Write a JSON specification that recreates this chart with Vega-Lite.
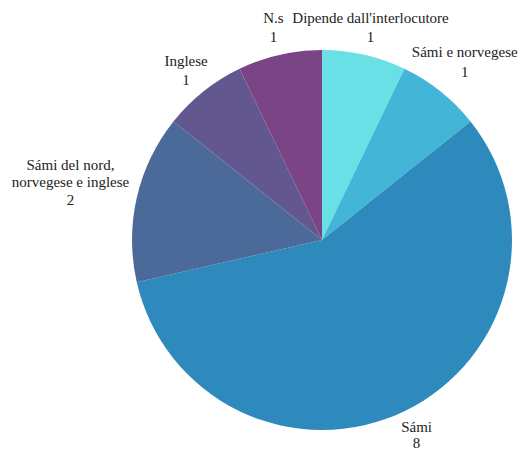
{
  "$schema": "https://vega.github.io/schema/vega-lite/v6.json",
  "autosize": "none",
  "width": 396,
  "height": 420,
  "padding": {"left": 124, "top": 30, "right": 0, "bottom": 0},
  "background": "white",
  "data": {
    "values": [
      {"cat": "Dipende dall'interlocutore", "n": 1, "ord": 1},
      {"cat": "Sámi e norvegese", "n": 1, "ord": 2},
      {"cat": "Sámi", "n": 8, "ord": 3},
      {"cat": "Sámi del nord,\nnorvegese e inglese", "n": 2, "ord": 4},
      {"cat": "Inglese", "n": 1, "ord": 5},
      {"cat": "N.s", "n": 1, "ord": 6}
    ]
  },
  "transform": [{"calculate": "datum.cat + '\\n' + datum.n", "as": "label"}],
  "encoding": {
    "theta": {"field": "n", "type": "quantitative", "stack": true},
    "order": {"field": "ord", "type": "quantitative"}
  },
  "layer": [
    {
      "mark": {"type": "arc", "outerRadius": 190},
      "encoding": {
        "color": {
          "field": "cat",
          "type": "nominal",
          "legend": null,
          "sort": {"field": "ord"},
          "scale": {
            "domain": ["Dipende dall'interlocutore", "Sámi e norvegese", "Sámi", "Sámi del nord,\nnorvegese e inglese", "Inglese", "N.s"],
            "range": ["#68E0E6", "#43B5D6", "#2E89BD", "#4B6A9A", "#62578E", "#7A4485"]
          }
        }
      }
    },
    {
      "mark": {"type": "text", "radius": 218, "dy": -9, "align": "center", "baseline": "middle", "lineBreak": "\n", "font": "Liberation Serif", "fontSize": 15, "lineHeight": 19, "color": "#222222"},
      "encoding": {"text": {"condition": {"test": "datum.ord == 1 || datum.ord == 5 || datum.ord == 6", "field": "label"}, "value": ""}}
    },
    {
      "mark": {"type": "text", "radius": 229, "dy": -9, "align": "center", "baseline": "middle", "lineBreak": "\n", "font": "Liberation Serif", "fontSize": 15, "lineHeight": 20, "color": "#222222"},
      "encoding": {"text": {"condition": {"test": "datum.ord == 2", "field": "label"}, "value": ""}}
    },
    {
      "mark": {"type": "text", "radius": 218, "dy": -9, "align": "center", "baseline": "middle", "lineBreak": "\n", "font": "Liberation Serif", "fontSize": 15, "lineHeight": 15.5, "color": "#222222"},
      "encoding": {"text": {"condition": {"test": "datum.ord == 3", "field": "label"}, "value": ""}}
    },
    {
      "mark": {"type": "text", "radius": 258, "dy": -18, "align": "center", "baseline": "middle", "lineBreak": "\n", "font": "Liberation Serif", "fontSize": 15, "lineHeight": 17.5, "color": "#222222"},
      "encoding": {"text": {"condition": {"test": "datum.ord == 4", "field": "label"}, "value": ""}}
    }
  ],
  "view": {"stroke": null}
}
